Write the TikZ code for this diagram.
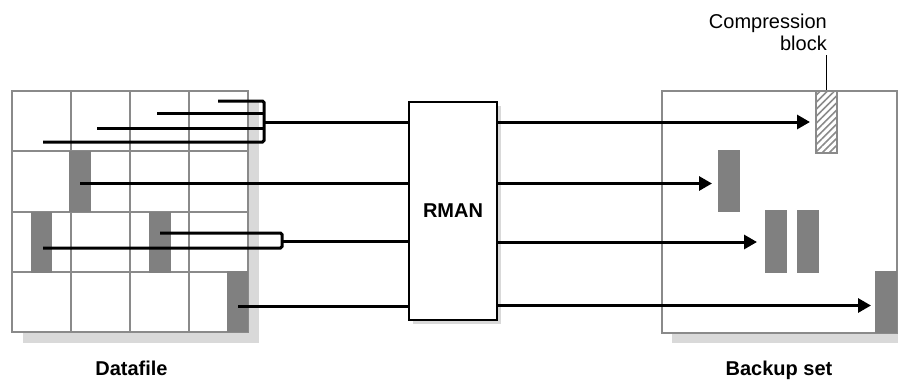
\documentclass[tikz,border=0pt]{standalone}
\usepackage{fontspec}
\setmainfont{Liberation Sans}
\usetikzlibrary{arrows.meta,patterns.meta}
\definecolor{gridgray}{HTML}{8A8A8A}
\definecolor{shadowgray}{HTML}{D9D9D9}
\definecolor{blockgray}{HTML}{808080}
\begin{document}
\begin{tikzpicture}[x=1pt,y=-1pt,
  shadowfill/.style={fill=shadowgray, draw=none},
  frame/.style={draw=gridgray, line width=2pt, fill=white, inner sep=0pt},
  gridline/.style={draw=gridgray, line width=2pt},
  datablock/.style={fill=blockgray, draw=none, inner sep=0pt, minimum width=22pt, minimum height=61pt},
  hatchblock/.style={draw=gridgray, line width=1.5pt, inner sep=0pt, minimum width=21pt, minimum height=62pt,
    pattern={Lines[angle=45,distance=5pt,line width=1.6pt]}, pattern color=gridgray},
  flow/.style={draw=black, line width=3pt, rounded corners=1.5pt},
  arrowflow/.style={draw=black, line width=3pt, -{Triangle[length=13pt,width=14pt]}},
  rmanbox/.style={draw=black, line width=2.5pt, fill=white, inner sep=0pt, minimum width=88pt, minimum height=218pt,
    font=\bfseries\fontsize{20}{24}\selectfont},
  biglabel/.style={font=\bfseries\fontsize{20}{24}\selectfont, anchor=base, inner sep=0pt},
  smalllabel/.style={font=\fontsize{20}{22}\selectfont, align=right, anchor=base east, inner sep=0pt},
  leader/.style={draw=black, line width=1pt}
]
\useasboundingbox (0,0) rectangle (898,381);

% ---------- Datafile ----------
\fill[shadowfill] (23,102) rectangle (259,343);
\node[frame, minimum width=236pt, minimum height=241pt] (df) at (130,211.5) {};
\foreach \x in {70.5,129.5,189} \draw[gridline] (\x,91) -- (\x,332);
\foreach \y in {151,211.5,272} \draw[gridline] (12,\y) -- (248,\y);
\node[datablock] (b21) at (80,181.5) {};
\node[datablock, minimum width=21pt] (b31) at (41.5,242.5) {};
\node[datablock] (b32) at (160,242.5) {};
\node[datablock, minimum width=21pt] (b41) at (237.5,301.5) {};

% ---------- Backup set ----------
\fill[shadowfill] (672,101) rectangle (910,343);
\node[frame, minimum width=235pt, minimum height=242pt] (bs) at (779.5,212) {};
\node[datablock, minimum height=62pt] (o1) at (729,181) {};
\node[datablock, minimum height=63pt] (o2) at (776,241.5) {};
\node[datablock, minimum height=63pt] (o3) at (808,241.5) {};
\node[datablock, minimum height=62pt] (o4) at (886,302) {};
\node[hatchblock] (hb) at (826.5,122) {};

% ---------- RMAN ----------
\fill[shadowfill] (413,106) rectangle (501,324);
\node[rmanbox] (rman) at (453,211) {RMAN};

% ---------- connectors, left ----------
\coordinate (s1a) at (218,101);
\coordinate (s1b) at (157,113.5);
\coordinate (s1c) at (97,128);
\coordinate (s1d) at (43,142);
\coordinate (j1) at (264,122);
\draw[flow] (s1a) -- (264,101) -- (264,142) -- (s1d);
\draw[flow] (s1b) -- (s1b -| j1);
\draw[flow] (s1c) -- (s1c -| j1);
\draw[flow] (j1) -- (j1 -| rman.west);

\coordinate (s2) at (80,183.5);
\draw[flow] (s2) -- (s2 -| rman.west);

\coordinate (s3a) at (160,233);
\coordinate (s3b) at (43,248);
\coordinate (j3) at (282,241.5);
\draw[flow] (s3a) -- (282,233) -- (282,248) -- (s3b);
\draw[flow] (j3) -- (j3 -| rman.west);

\coordinate (s4) at (238,306);
\draw[flow] (s4) -- (s4 -| rman.west);

% ---------- connectors, right ----------
\coordinate (t1) at (810,122);
\coordinate (t2) at (712,183.5);
\coordinate (t3) at (757,242);
\coordinate (t4) at (871,305.5);
\draw[arrowflow] (t1 -| rman.east) -- (t1);
\draw[arrowflow] (t2 -| rman.east) -- (t2);
\draw[arrowflow] (t3 -| rman.east) -- (t3);
\draw[arrowflow] (t4 -| rman.east) -- (t4);

% ---------- labels ----------
\node[biglabel] (dflabel) at (131.5,375.5) {Datafile};
\node[biglabel] (bslabel) at (779,375.5) {Backup set};
\node[smalllabel] (cblabel) at (827,50) {Compression\\block};
\coordinate (lead) at (826.5,55);
\draw[leader] (lead) -- (hb.north);
\end{tikzpicture}
\end{document}
